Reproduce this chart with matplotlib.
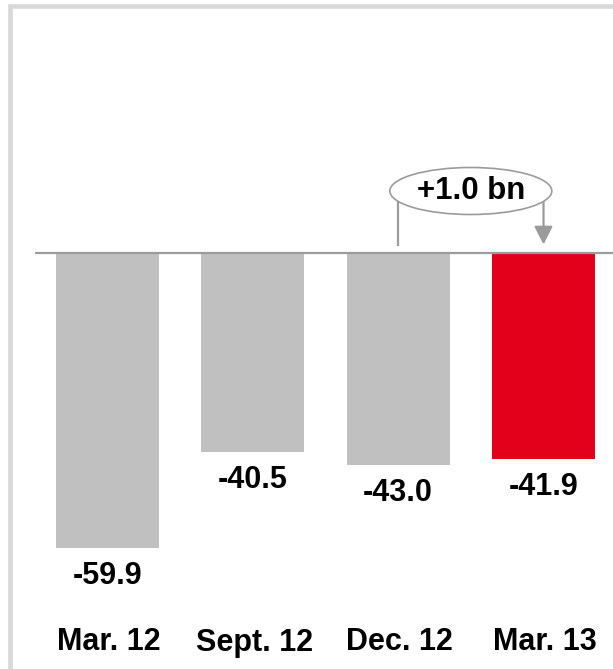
import matplotlib
matplotlib.use("Agg")
import matplotlib.pyplot as plt
from matplotlib.patches import Ellipse, Rectangle

plt.rcParams["font.family"] = ["Liberation Sans", "DejaVu Sans"]

# data
categories = ["Mar. 12", "Sept. 12", "Dec. 12", "Mar. 13"]
values = [-59.9, -40.5, -43.0, -41.9]
change_label = "+1.0 bn"
change_from, change_to = 2, 3

GREY = "#C0C0C0"
RED = "#E2001A"
LINE = "#9B9B9B"
bar_colors = [GREY, GREY, GREY, RED]

W, H = 613, 669
fig = plt.figure(figsize=(W / 100, H / 100), dpi=100)
fig.patch.set_facecolor("white")

# light frame round the slide (only top and left visible)
fig.patches.append(Rectangle((9.5 / W, -0.1), 1.2, 1.1 - 6.2 / H,
                             transform=fig.transFigure, fill=False,
                             edgecolor="#D9D9D9", linewidth=3.4))

ax = fig.add_axes([0, 0, 1, 1])
ax.set_facecolor("none")
px_per_unit = 4.925
base_px = 253
step = 145.33
ax.set_xlim(-107.5 / step, (W - 107.5) / step)
ax.set_ylim(-(H - base_px) / px_per_unit, base_px / px_per_unit)
ax.axis("off")

x = list(range(len(categories)))
ax.bar(x, values, width=0.71, color=bar_colors, zorder=2)
ax.hlines(0, -0.5, 3.6, color=LINE, linewidth=1.6, zorder=3)

for xi, v in zip(x, values):
    ax.annotate(f"{v:.1f}", (xi, v), xytext=(0, -28), textcoords="offset pixels",
                ha="center", va="center", fontsize=22, fontweight="bold",
                color="black")

for xi, c in zip(x, categories):
    ax.text(xi + 0.01, 1 - 642.5 / H, c, transform=ax.get_xaxis_transform(),
            ha="center", va="center", fontsize=22, fontweight="bold",
            color="black")

# change bubble
top_y = (base_px - 200) / px_per_unit
bot_y = (base_px - 245) / px_per_unit
mid = (change_from + change_to) / 2
ax.add_patch(Ellipse((mid, (base_px - 191) / px_per_unit), 162 / step,
                     47 / px_per_unit, facecolor="white", edgecolor=LINE,
                     linewidth=1.2, zorder=4))
ax.text(mid, (base_px - 191) / px_per_unit, change_label, ha="center",
        va="center", fontsize=22.5, fontweight="bold", color="black", zorder=5)
ax.plot([change_from, change_from], [top_y, bot_y], color=LINE,
        linewidth=1.6, zorder=3)
ax.annotate("", xy=(change_to, bot_y + 0.1), xytext=(change_to, top_y),
            arrowprops=dict(arrowstyle="-|>,head_length=0.55,head_width=0.28",
                            mutation_scale=20, color=LINE, linewidth=1.6,
                            shrinkA=0, shrinkB=0), zorder=3)

fig.savefig("out.png", dpi=100, facecolor="white")
